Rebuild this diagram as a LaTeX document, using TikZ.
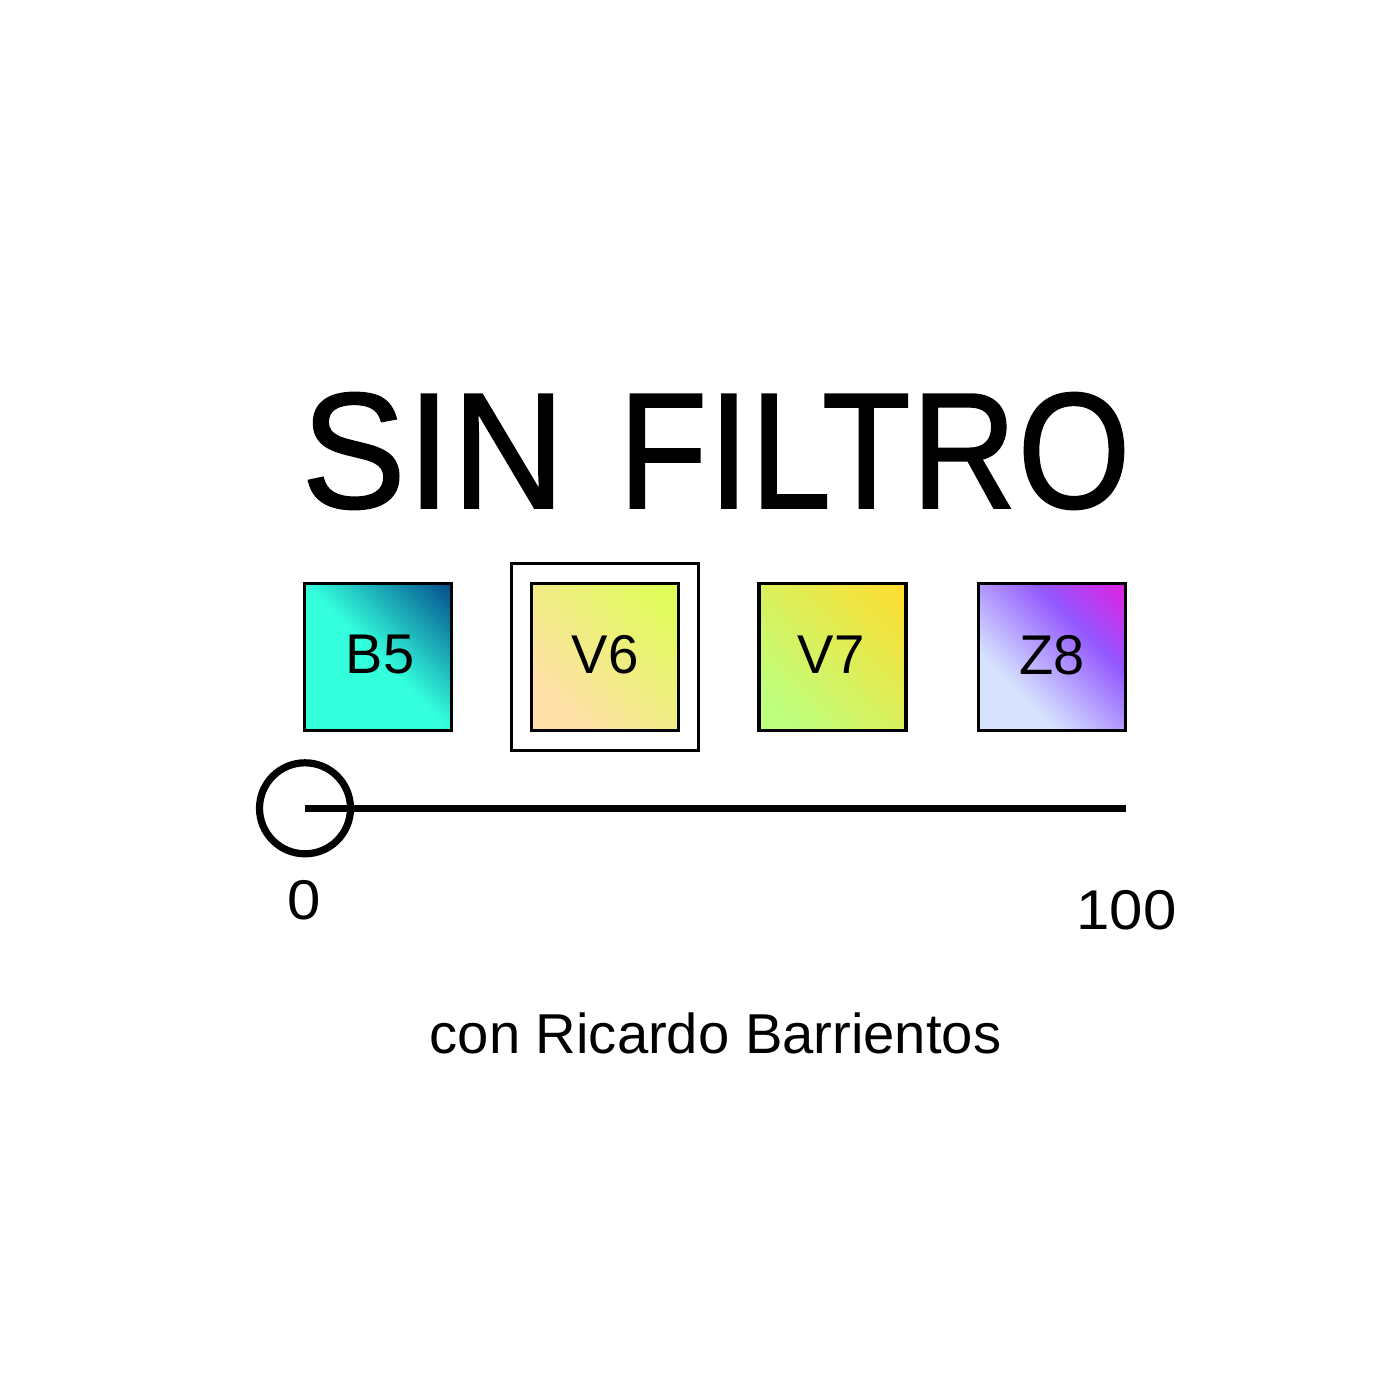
\documentclass[tikz,border=0pt]{standalone}
\usepackage{fontspec}
\setmainfont{Liberation Sans}
\newfontfamily\titlefonta[FakeStretch=0.945,FakeBold=1.2,LetterSpace=1.0]{Liberation Sans}
\newfontfamily\titlefontb[FakeStretch=0.876,FakeBold=1.2,LetterSpace=1.0]{Liberation Sans}
\newfontfamily\widefont[FakeStretch=1.07]{Liberation Sans}
\definecolor{cB1}{HTML}{33FFDC}
\definecolor{cB2}{HTML}{034D8E}
\definecolor{cV1}{HTML}{FFE0A8}
\definecolor{cV2}{HTML}{DCFF50}
\definecolor{cS1}{HTML}{BEFF7E}
\definecolor{cS2}{HTML}{FFDD30}
\definecolor{cZ1}{HTML}{D5E1FF}
\definecolor{cZ2}{HTML}{9357FF}
\definecolor{cZ3}{HTML}{E020E0}
\pgfdeclarehorizontalshading{gradB}{100bp}{color(0bp)=(cB1); color(50bp)=(cB1); color(85bp)=(cB2); color(100bp)=(cB2)}
\pgfdeclarehorizontalshading{gradV}{100bp}{color(0bp)=(cV1); color(27bp)=(cV1); color(85bp)=(cV2); color(100bp)=(cV2)}
\pgfdeclarehorizontalshading{gradS}{100bp}{color(0bp)=(cS1); color(24bp)=(cS1); color(84bp)=(cS2); color(100bp)=(cS2)}
\pgfdeclarehorizontalshading{gradZ}{100bp}{color(0bp)=(cZ1); color(34bp)=(cZ1); color(64bp)=(cZ2); color(85bp)=(cZ3); color(100bp)=(cZ3)}
\tikzset{
  swatch/.style={draw=black,line width=1.6pt,minimum size=73.5pt,inner sep=0pt,outer sep=0pt,shading angle=45},
  lbl/.style={inner sep=0pt,outer sep=0pt,text=black},
  big/.style={lbl,font=\fontsize{28}{32}\selectfont},
  track/.style={line width=3.6pt,draw=black},
}
\begin{document}
\begin{tikzpicture}[x=0.5pt,y=-0.5pt]
\useasboundingbox (0,0) rectangle (1400,1400);
\node[lbl,font=\fontsize{82.5}{90}\selectfont] (title) at (716,451) {\titlefonta SIN\hspace{4.5pt} \titlefontb FILTRO};
\node[swatch,shading=gradB] (b5) at (378,657) {};
\node[big] (b5t) at (380,655) {B5};
\node[draw=black,line width=1.6pt,minimum size=93.5pt,inner sep=0pt,outer sep=0pt] (frame) at (605,657) {};
\node[swatch,shading=gradV] (v6) at (605,657) {};
\node[big,font=\fontsize{27.3}{32}\selectfont] (v6t) at (605,655) {V6};
\node[swatch,shading=gradS] (v7) at (832.5,657) {};
\node[big,font=\fontsize{27.3}{32}\selectfont] (v7t) at (831,655) {V7};
\node[swatch,shading=gradZ] (z8) at (1052,657) {};
\node[big] (z8t) at (1052,655) {Z8};
\node[draw=black,line width=3.6pt,circle,minimum size=45.5pt,inner sep=0pt,outer sep=0pt] (knob) at (305,808.3) {};
\coordinate (end) at (1126,808.3);
\draw[track] (knob.center) -- (end);
\node[big,font=\widefont\fontsize{28}{32}\selectfont] (zero) at (304,900) {0};
\node[big,font=\widefont\fontsize{28}{32}\selectfont] (hundred) at (1126.5,910) {100};
\node[big,font=\fontsize{28.1}{32}\selectfont] (credit) at (715.5,1033.5) {con Ricardo Barrientos};
\end{tikzpicture}
\end{document}
